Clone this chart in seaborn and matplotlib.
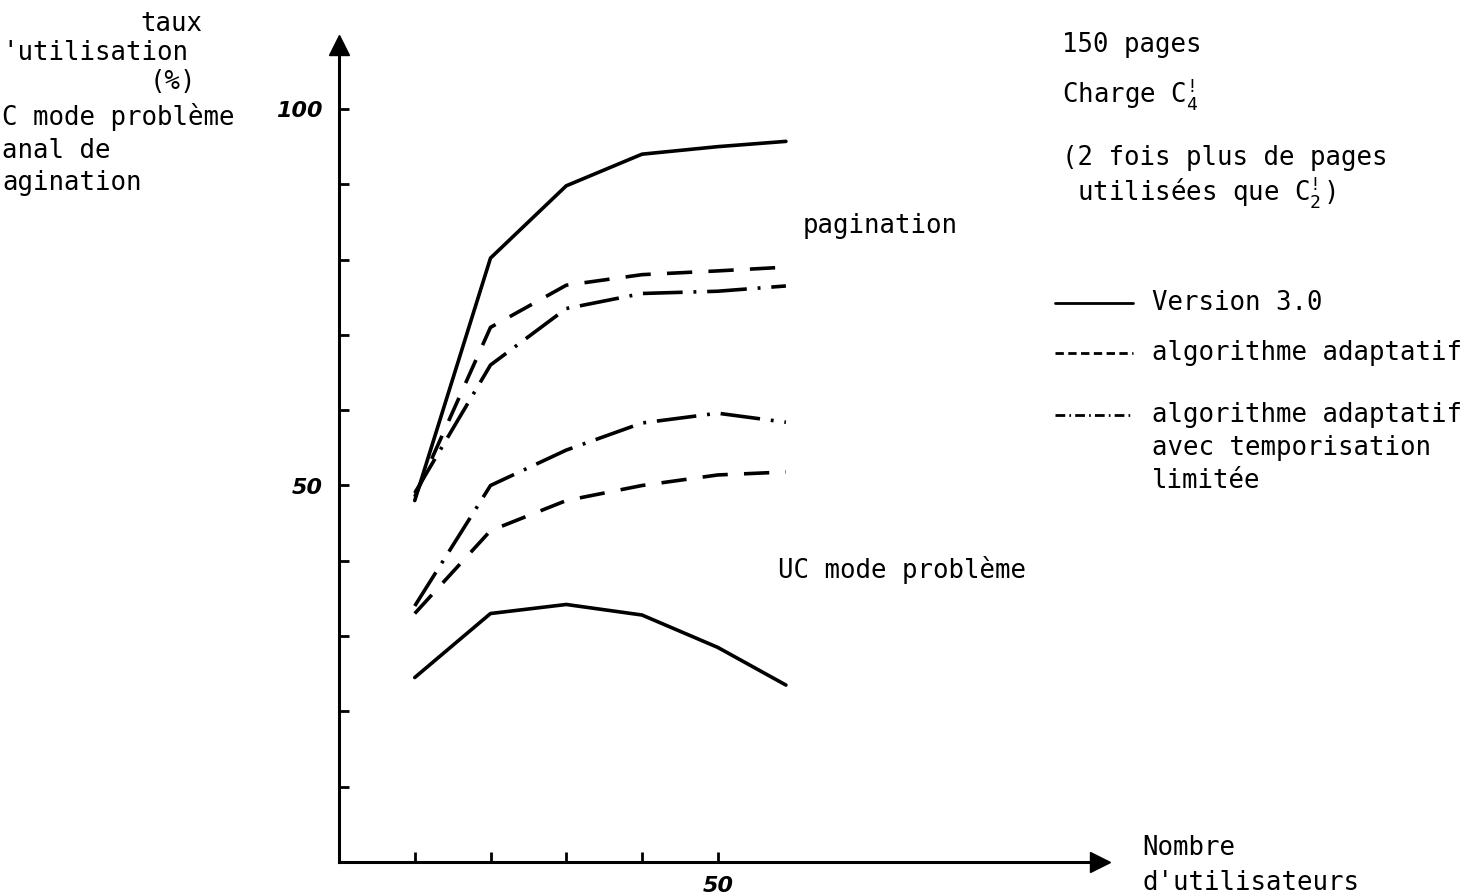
import matplotlib
matplotlib.use("Agg")
import matplotlib.pyplot as plt
import seaborn as sns
import pandas as pd
from matplotlib.lines import Line2D

# number of users
users = [10, 20, 30, 40, 50, 59]

# taux d'utilisation (%) - pagination
pag_v30 = [48, 80.2, 89.8, 94, 95, 95.7]
pag_adapt = [48.5, 71, 76.6, 78, 78.5, 79]
pag_tempo = [49, 66, 73.5, 75.5, 75.8, 76.5]

# taux d'utilisation (%) - UC mode probleme
uc_v30 = [24.5, 33, 34.2, 32.8, 28.5, 23.5]
uc_adapt = [33, 44, 48, 50, 51.4, 51.8]
uc_tempo = [34, 50, 54.7, 58.3, 59.6, 58.4]

algos = ["Version 3.0", "algorithme adaptatif", "adaptatif temporisation"]

y_ticks = [10, 20, 30, 40, 50, 60, 70, 80, 90, 100]
y_ticklabels = ["", "", "", "", "50", "", "", "", "", "100"]
x_ticks = [10, 20, 30, 40, 50]
x_ticklabels = ["", "", "", "", "50"]

W, H = 1471, 896


def px(x, y):
    return x / W, 1 - y / H


def plot_chart():
    rows = []
    for mode, series in [("pagination", [pag_v30, pag_adapt, pag_tempo]),
                         ("UC", [uc_v30, uc_adapt, uc_tempo])]:
        for algo, vals in zip(algos, series):
            for u, v in zip(users, vals):
                rows.append({"users": u, "taux": v, "mode": mode, "algo": algo})
    df = pd.DataFrame(rows)

    sns.set_style("white")
    plt.rcParams["font.family"] = ["DejaVu Sans Mono", "DejaVu Sans"]
    plt.rcParams["text.color"] = "black"
    plt.rcParams["mathtext.fontset"] = "custom"
    plt.rcParams["mathtext.rm"] = "DejaVu Sans Mono"
    plt.rcParams["mathtext.it"] = "DejaVu Sans Mono"

    fig = plt.figure(figsize=(W / 100, H / 100), dpi=100)
    left, right, bottom, top = 339, 1100, 862, 45
    ax = fig.add_axes([left / W, (H - bottom) / H, (right - left) / W, (bottom - top) / H])

    dashes = {
        "Version 3.0": "",
        "algorithme adaptatif": (7, 4.5),
        "adaptatif temporisation": (11, 3, 0.8, 3),
    }

    sns.lineplot(
        data=df, x="users", y="taux",
        style="algo", units="mode", estimator=None,
        dashes=dashes, color="black", linewidth=2.6,
        legend=False, ax=ax
    )

    ax.set_xlim(0, (right - left) / 7.575)
    ax.set_ylim(0, (bottom - top) / 7.53)

    for s in ["top", "right"]:
        ax.spines[s].set_visible(False)
    for s in ["left", "bottom"]:
        ax.spines[s].set_color("black")
        ax.spines[s].set_linewidth(2.2)

    # arrows
    ax.plot(1, 0, ">k", markersize=15, transform=ax.get_yaxis_transform(), clip_on=False)
    ax.plot(0, 1, "^k", markersize=15, transform=ax.get_xaxis_transform(), clip_on=False)

    ax.set_yticks(y_ticks)
    ax.set_yticklabels(y_ticklabels, fontsize=16, fontweight="bold",
                       fontstyle="italic", family="DejaVu Sans")
    ax.set_xticks(x_ticks)
    ax.set_xticklabels(x_ticklabels, fontsize=16, fontweight="bold",
                       fontstyle="italic", family="DejaVu Sans")
    ax.tick_params(axis="y", left=True, direction="in", length=7, width=2,
                   pad=12, colors="black")
    ax.tick_params(axis="x", bottom=True, direction="in", length=7, width=2,
                   pad=10, colors="black")
    ax.set_xlabel("")
    ax.set_ylabel("")
    ax.grid(False)

    fs = 18.5
    # y axis title (cut off in the scan)
    fig.text(*px(140, 24), "taux", fontsize=fs, va="center")
    fig.text(*px(2, 53), "'utilisation", fontsize=fs, va="center")
    fig.text(*px(150, 82), "(%)", fontsize=fs, va="center")
    fig.text(*px(2, 117), "C mode problème", fontsize=fs, va="center")
    fig.text(*px(2, 151), "anal de", fontsize=fs, va="center")
    fig.text(*px(2, 183), "agination", fontsize=fs, va="center")

    # x axis title
    fig.text(*px(1142, 848), "Nombre", fontsize=fs, va="center")
    fig.text(*px(1142, 883), "d'utilisateurs", fontsize=fs, va="center")

    # curve group labels
    fig.text(*px(803, 226), "pagination", fontsize=fs, va="center")
    fig.text(*px(778, 570), "UC mode problème", fontsize=fs, va="center")

    # conditions
    fig.text(*px(1062, 45), "150 pages", fontsize=fs, va="center")
    fig.text(*px(1062, 94), r"Charge C$^{!}_{4}$", fontsize=fs, va="center")
    fig.text(*px(1062, 158), "(2 fois plus de pages", fontsize=fs, va="center")
    fig.text(*px(1077, 192), r"utilisées que C$^{!}_{2}$)", fontsize=fs, va="center")

    # hand-made legend
    legend_items = [
        (303, "-", ["Version 3.0"]),
        (353, (0, (3, 1.6)), ["algorithme adaptatif"]),
        (415, (0, (3.5, 1.5, 0.6, 1.5)),
         ["algorithme adaptatif", "avec temporisation", "limitée"]),
    ]
    for y, ls, lines in legend_items:
        x0, y0 = px(1055, y)
        x1, _ = px(1133, y)
        fig.add_artist(Line2D([x0, x1], [y0, y0], color="black",
                              linewidth=2, linestyle=ls))
        for i, t in enumerate(lines):
            fig.text(*px(1152, y + i * 33), t, fontsize=fs, va="center")

    plt.savefig("out.png", dpi=100)
    plt.close()


if __name__ == "__main__":
    plot_chart()
